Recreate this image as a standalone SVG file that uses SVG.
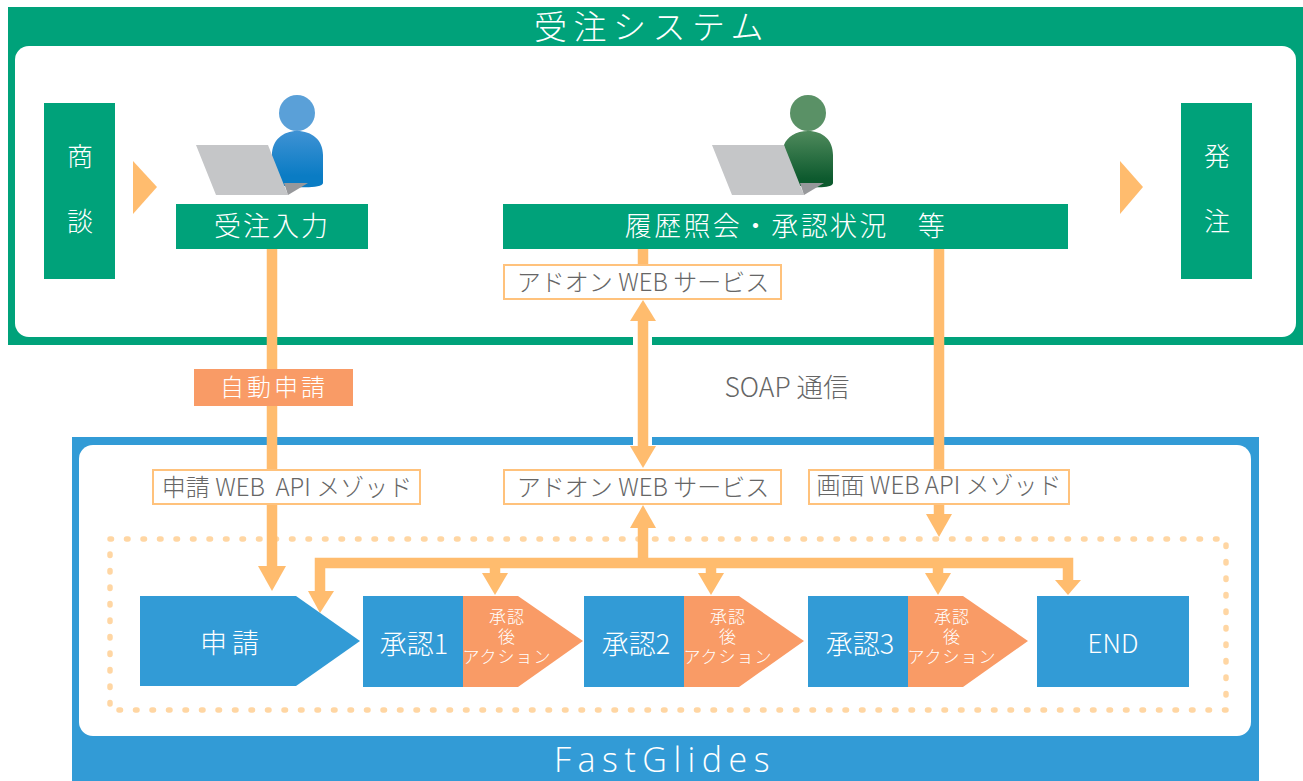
<svg xmlns="http://www.w3.org/2000/svg" width="1303" height="781" viewBox="0 0 1303 781">
<defs>
<linearGradient id="gb" x1="0" y1="0" x2="0" y2="1"><stop offset="0" stop-color="#3f92d4"/><stop offset="0.8" stop-color="#0a7cc4"/><stop offset="1" stop-color="#0a7cc4"/></linearGradient>
<linearGradient id="gg" x1="0" y1="0" x2="0" y2="1"><stop offset="0" stop-color="#4f8a5c"/><stop offset="0.85" stop-color="#0d5a2e"/><stop offset="1" stop-color="#0d5a2e"/></linearGradient>
<g id="laptop"><path d="M196 145H268L288 195H216Z" fill="#c5c6c8"/><path d="M284 183H308L288 195Z" fill="#97989b"/></g>
</defs>
<style>
text{font-family:"Noto Sans CJK JP","Open Sans",sans-serif;font-weight:300}
.w{fill:#fff;text-anchor:middle}
.g{fill:#666;text-anchor:middle;font-size:24px}
.sub{font-family:"Liberation Sans","Noto Sans CJK JP",sans-serif;font-size:17px;letter-spacing:1px}
.lab{fill:#fff;stroke:#ffc27c;stroke-width:2}
.gr{fill:#00a27a}
.bl{fill:#329bd6}
.or{fill:#f99b66}
.ar{fill:#ffbc6e}
.c{fill:none;stroke:#ffbc6e;stroke-width:10.5}
</style>
<g id="order-system">
<rect x="8" y="7" width="1295" height="338" class="gr"/>
<rect x="15" y="46" width="1281" height="291" rx="14" fill="#fff"/>
<text x="652" y="39" class="w" font-size="33" letter-spacing="6.5">受注システム</text>
</g>
<g id="fastglides">
<rect x="72" y="437" width="1187" height="344" class="bl"/>
<rect x="79" y="445" width="1172" height="291" rx="14" fill="#fff"/>
<text x="665" y="772" class="w" font-size="34" letter-spacing="6.5" style="font-family:'Open Sans',sans-serif">FastGlides</text>
</g>
<rect x="110" y="539" width="1116" height="171" fill="none" stroke="#ffd6a3" stroke-width="5.5" stroke-linecap="round" stroke-dasharray="1.5 15"/>
<g id="connectors">
<rect x="633" y="336" width="19" height="10" fill="#fff"/>
<rect x="633" y="435" width="19" height="11" fill="#fff"/>
<path class="c" d="M272 249V570"/>
<path class="c" d="M643 249V265"/>
<path class="c" d="M643 320V447"/>
<path class="c" d="M939 249V515"/>
<path class="c" d="M643 527V563"/>
<path class="c" d="M320 592V563H1068V582"/>
<path class="c" d="M495 563V575M711 563V575M938 563V575"/>
<path d="M258 566H286L272 591Z" class="ar"/>
<path d="M643 300L630 321H656Z" class="ar"/>
<path d="M643 468L630 446H656Z" class="ar"/>
<path d="M643 505L630 528H656Z" class="ar"/>
<path d="M939 537L926 514H952Z" class="ar"/>
<path d="M308 591H334L320 613Z" class="ar"/>
<path d="M1055 580H1081L1068 595Z" class="ar"/>
<path d="M482 573H508L495 595Z" class="ar"/>
<path d="M698 573H724L711 595Z" class="ar"/>
<path d="M925 573H951L938 595Z" class="ar"/>
</g>
<g id="shodan"><rect x="44" y="103" width="71" height="176" class="gr"/><text x="80" y="166" class="w" font-size="26">商</text><text x="80" y="231" class="w" font-size="26">談</text></g>
<path id="arrow-left" d="M133 161L157 187L133 214Z" fill="#ffbc6e"/>
<g id="user-blue">
<circle cx="297" cy="113" r="18" fill="#5aa0d8"/>
<path d="M272 155C272 140 283 131 297 131C312 131 323 140 323 155V183C323 188 300 188 290 186H272Z" fill="url(#gb)"/>
<use href="#laptop"/>
</g>
<g id="user-green">
<circle cx="808" cy="113" r="18" fill="#5a9166"/>
<path d="M784 145C787 137 796 131 808 131C823 131 833 140 833 155V183C833 188 815 188 805 186H790Z" fill="url(#gg)"/>
<use href="#laptop" x="516"/>
</g>
<g id="input"><rect x="176" y="204" width="192" height="45" class="gr"/><text x="272" y="236" class="w" font-size="27" letter-spacing="2">受注入力</text></g>
<g id="history"><rect x="503" y="204" width="565" height="45" class="gr"/><text x="786" y="236" class="w" font-size="27" xml:space="preserve" letter-spacing="2.3">履歴照会・承認状況　等</text></g>
<path id="arrow-right" d="M1120 161L1143 187L1120 214Z" fill="#ffbc6e"/>
<g id="hatchu"><rect x="1181" y="103" width="71" height="176" class="gr"/><text x="1217" y="166" class="w" font-size="26">発</text><text x="1217" y="231" class="w" font-size="26">注</text></g>
<g id="addon-top"><rect x="504" y="265" width="277" height="34" class="lab"/><text x="643" y="291" class="g" xml:space="preserve">アドオン WEB サービス</text></g>
<g id="auto"><rect x="194" y="369" width="159" height="37" class="or"/><text x="274" y="396" class="w" font-size="24" letter-spacing="3">自動申請</text></g>
<text x="787" y="397" class="g" style="font-size:26.5px">SOAP 通信</text>
<g id="api1"><rect x="153" y="470" width="267" height="34" class="lab"/><text x="287" y="496" class="g" xml:space="preserve">申請 WEB  API メゾッド</text></g>
<g id="addon-bottom"><rect x="504" y="470" width="277" height="34" class="lab"/><text x="643" y="496" class="g">アドオン WEB サービス</text></g>
<g id="api2"><rect x="809" y="470" width="260" height="34" class="lab"/><text x="939" y="494" class="g">画面 WEB API メゾッド</text></g>
<g id="shinsei"><path d="M140 596H296L360 641L296 686H140Z" class="bl"/><text x="232" y="653" class="w" font-size="27" letter-spacing="5">申請</text></g>
<g id="step1"><rect x="363" y="596" width="100" height="91" class="bl"/><path d="M463 596H518L583 641L518 687H463Z" class="or"/><text x="414" y="654" class="w" font-size="27">承認1</text>
<text class="w sub"><tspan x="507" y="623">承認</tspan><tspan x="507" y="643">後</tspan><tspan x="507" y="663">アクション</tspan></text></g>
<g id="step2"><rect x="584" y="596" width="100" height="91" class="bl"/><path d="M684 596H739L804 641L739 687H684Z" class="or"/><text x="636" y="654" class="w" font-size="27">承認2</text>
<text class="w sub"><tspan x="728" y="623">承認</tspan><tspan x="728" y="643">後</tspan><tspan x="728" y="663">アクション</tspan></text></g>
<g id="step3"><rect x="808" y="596" width="100" height="91" class="bl"/><path d="M908 596H963L1028 641L963 687H908Z" class="or"/><text x="860" y="654" class="w" font-size="27">承認3</text>
<text class="w sub"><tspan x="952" y="623">承認</tspan><tspan x="952" y="643">後</tspan><tspan x="952" y="663">アクション</tspan></text></g>
<g id="end"><rect x="1037" y="596" width="152" height="91" class="bl"/><text x="1113" y="653" class="w" font-size="26">END</text></g>
</svg>
